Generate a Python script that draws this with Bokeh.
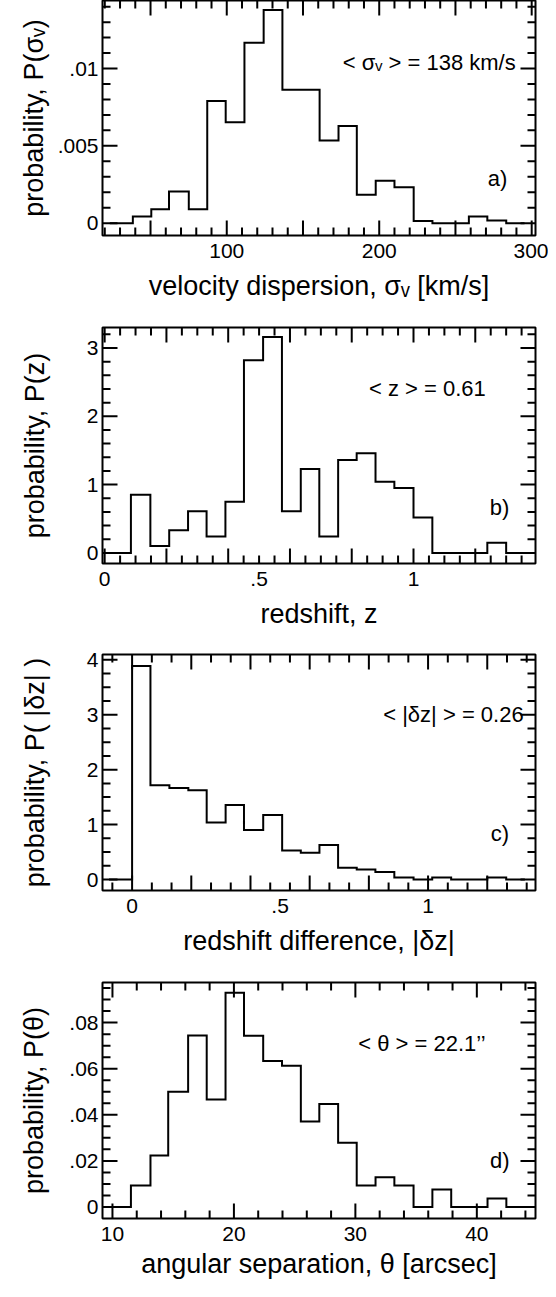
from bokeh.plotting import figure
from bokeh.models import Range1d, LinearAxis, FixedTicker, Label, BoxAnnotation
from bokeh.layouts import column
from bokeh.embed import file_html
from bokeh.resources import INLINE

FONT = "Liberation Sans"

# ---------------- panel a: velocity dispersion ----------------
a_edges = [23.3, 38.4, 50.5, 62.1, 75.1, 87.2, 99.3, 111.6, 124.2, 136.5, 148.8, 160.9,
           173.3, 185.3, 197.7, 210.0, 222.6, 234.9, 247.2, 258.8, 270.9, 283.3, 295.3]
a_vals = [0, 0.00043, 0.0009, 0.00204, 0.0009, 0.0079, 0.00653, 0.01166, 0.01379, 0.00862,
          0.00862, 0.00534, 0.00628, 0.00183, 0.00274, 0.00232, 0.00013, 0, 0, 0.00043,
          0.00017, 0]
a_xmajor = [50, 100, 150, 200, 250, 300]
a_xminor = [20, 30, 40, 60, 70, 80, 90, 110, 120, 130, 140, 160, 170, 180, 190, 210, 220,
            230, 240, 260, 270, 280, 290]
a_xlabels = {100: "100", 200: "200", 300: "300"}
a_ymajor = [0, 0.005, 0.01]
a_yminor = [0.001, 0.002, 0.003, 0.004, 0.006, 0.007, 0.008, 0.009, 0.011, 0.012, 0.013, 0.014]
a_ylabels = {0: "0", 0.005: ".005", 0.01: ".01"}

# ---------------- panel b: redshift ----------------
b_edges = [0.014, 0.085, 0.148, 0.209, 0.270, 0.330, 0.391, 0.451, 0.513, 0.574, 0.635, 0.695,
           0.756, 0.816, 0.877, 0.938, 1.0, 1.061, 1.122, 1.18, 1.239, 1.3, 1.36]
b_vals = [0, 0.85, 0.10, 0.33, 0.61, 0.24, 0.75, 2.82, 3.16, 0.61, 1.23, 0.24, 1.36, 1.46,
          1.04, 0.95, 0.52, 0, 0, 0, 0.15, 0]
b_xmajor = [0, 0.2, 0.4, 0.6, 0.8, 1.0, 1.2]
b_xminor = [0.05, 0.1, 0.15, 0.25, 0.3, 0.35, 0.45, 0.5, 0.55, 0.65, 0.7, 0.75, 0.85, 0.9,
            0.95, 1.05, 1.1, 1.15, 1.25, 1.3, 1.35]
b_xlabels = {0: "0", 0.5: ".5", 1: "1"}
b_ymajor = [0, 1, 2, 3]
b_yminor = [0.2, 0.4, 0.6, 0.8, 1.2, 1.4, 1.6, 1.8, 2.2, 2.4, 2.6, 2.8, 3.2]
b_ylabels = {0: "0", 1: "1", 2: "2", 3: "3"}

# ---------------- panel c: redshift difference ----------------
c_edges = [-0.078, 0.0, 0.062, 0.126, 0.190, 0.252, 0.316, 0.378, 0.443, 0.507, 0.570, 0.633,
           0.696, 0.759, 0.822, 0.886, 0.951, 1.014, 1.078, 1.138, 1.200, 1.264, 1.327]
c_vals = [0, 3.886, 1.715, 1.667, 1.625, 1.037, 1.355, 0.90, 1.175, 0.528, 0.486, 0.63,
          0.216, 0.18, 0.138, 0.036, 0, 0.036, 0, 0, 0.036, 0]
c_xmajor = [0, 0.2, 0.4, 0.6, 0.8, 1.0, 1.2]
c_xminor = [-0.0667, 0.0667, 0.1333, 0.2667, 0.3333, 0.4667, 0.5333, 0.6667, 0.7333,
            0.8667, 0.9333, 1.0667, 1.1333, 1.2667, 1.3333]
c_xlabels = {0: "0", 0.5: ".5", 1: "1"}
c_ymajor = [0, 1, 2, 3, 4]
c_yminor = [0.25, 0.5, 0.75, 1.25, 1.5, 1.75, 2.25, 2.5, 2.75, 3.25, 3.5, 3.75]
c_ylabels = {0: "0", 1: "1", 2: "2", 3: "3", 4: "4"}

# ---------------- panel d: angular separation ----------------
d_edges = [9.71, 11.52, 13.13, 14.59, 16.23, 17.76, 19.31, 20.83, 22.41, 23.96, 25.51, 27.03,
           28.58, 30.11, 31.66, 33.21, 34.79, 36.34, 37.89, 39.35, 40.88, 42.43, 43.95]
d_vals = [0, 0.0093, 0.0223, 0.050, 0.0744, 0.0466, 0.093, 0.0743, 0.0633, 0.0613, 0.0371,
          0.0447, 0.0279, 0.0093, 0.0129, 0.0093, 0, 0.0076, 0, 0, 0.0037, 0]
d_xmajor = [10, 20, 30, 40]
d_xminor = [12, 14, 16, 18, 22, 24, 26, 28, 32, 34, 36, 38, 42, 44]
d_xlabels = {10: "10", 20: "20", 30: "30", 40: "40"}
d_ymajor = [0, 0.02, 0.04, 0.06, 0.08]
d_yminor = [0.005, 0.01, 0.015, 0.025, 0.03, 0.035, 0.045, 0.05, 0.055, 0.065, 0.07, 0.075,
            0.085, 0.09, 0.095]
d_ylabels = {0: "0", 0.02: ".02", 0.04: ".04", 0.06: ".06", 0.08: ".08"}

TICK_FS = "21px"
AXLAB_FS = "27px"
NOTE_FS = "22px"
MAJ_LEN = 15
MIN_LEN = 8
TICK_W = 2.0
FIG_W = 548
B_LEFT = 102
B_RIGHT = 13
FRAME_W = FIG_W - B_LEFT - B_RIGHT


def tick_box(p, l, r, b, t):
    p.add_layout(BoxAnnotation(left=l, right=r, bottom=b, top=t,
                               fill_color="black", fill_alpha=1.0,
                               line_color=None, level="overlay"))


def add_ticks(p, xr, yr, xmaj, xmin, ymaj, ymin, frame_h):
    """Inward tick marks on all four frame sides, as small filled boxes."""
    ux = (xr[1] - xr[0]) / FRAME_W
    uy = (yr[1] - yr[0]) / frame_h
    hx = TICK_W / 2 * ux
    hy = TICK_W / 2 * uy
    xt = [(x, MAJ_LEN) for x in xmaj] + [(x, MIN_LEN) for x in xmin]
    yt = [(y, MAJ_LEN) for y in ymaj] + [(y, MIN_LEN) for y in ymin]
    for x, ln in xt:
        tick_box(p, x - hx, x + hx, yr[0], yr[0] + ln * uy)
        tick_box(p, x - hx, x + hx, yr[1] - ln * uy, yr[1])
    for y, ln in yt:
        tick_box(p, xr[0], xr[0] + ln * ux, y - hy, y + hy)
        tick_box(p, xr[1] - ln * ux, xr[1], y - hy, y + hy)


def make_panel(edges, vals, xr, yr, xmaj, xmin, xlabels, ymaj, ymin, ylabels,
               xlabel, ylabel, note, note_xy, tag, tag_xy,
               height, top, bottom, xstand1, xstand2, ystand):
    frame_h = height - top - bottom
    p = figure(width=FIG_W, height=height, x_range=Range1d(*xr), y_range=Range1d(*yr),
               output_backend="svg", toolbar_location=None,
               x_axis_location=None, y_axis_location=None,
               min_border_left=B_LEFT, min_border_right=B_RIGHT,
               min_border_top=top, min_border_bottom=bottom)
    p.grid.visible = False
    p.outline_line_color = "black"
    p.outline_line_width = 2
    p.background_fill_color = "white"
    p.border_fill_color = "white"

    xax = LinearAxis(
        ticker=FixedTicker(ticks=list(xlabels.keys()), minor_ticks=[]),
        major_label_overrides=xlabels,
        major_tick_in=0, major_tick_out=0, minor_tick_in=0, minor_tick_out=0,
        axis_line_color=None, major_label_standoff=xstand1,
        major_label_text_font=FONT, major_label_text_font_size=TICK_FS,
        major_label_text_color="black",
        axis_label=xlabel, axis_label_text_font=FONT, axis_label_text_font_size=AXLAB_FS,
        axis_label_text_font_style="normal", axis_label_standoff=xstand2,
        axis_label_text_color="black",
    )
    p.add_layout(xax, "below")

    yax = LinearAxis(
        ticker=FixedTicker(ticks=list(ylabels.keys()), minor_ticks=[]),
        major_label_overrides=ylabels,
        major_tick_in=0, major_tick_out=0, minor_tick_in=0, minor_tick_out=0,
        axis_line_color=None, major_label_standoff=4,
        major_label_text_font=FONT, major_label_text_font_size=TICK_FS,
        major_label_text_color="black",
        axis_label=ylabel, axis_label_text_font=FONT, axis_label_text_font_size=AXLAB_FS,
        axis_label_text_font_style="normal", axis_label_standoff=ystand,
        axis_label_text_color="black",
    )
    p.add_layout(yax, "left")

    p.step(x=edges, y=vals + [vals[-1]], mode="after", line_color="black",
           line_width=2, line_join="miter")

    add_ticks(p, xr, yr, xmaj, xmin, ymaj, ymin, frame_h)

    p.add_layout(Label(x=note_xy[0], y=note_xy[1], text=note, text_align="right",
                       text_baseline="middle", text_font=FONT, text_font_size=NOTE_FS,
                       text_color="black"))
    p.add_layout(Label(x=tag_xy[0], y=tag_xy[1], text=tag, text_align="right",
                       text_baseline="middle", text_font=FONT, text_font_size=NOTE_FS,
                       text_color="black"))
    return p


pa = make_panel(a_edges, a_vals, (18.5, 302.5), (-0.0008, 0.0144),
                a_xmajor, a_xminor, a_xlabels, a_ymajor, a_yminor, a_ylabels,
                "velocity dispersion, \u03c3\u1d65 [km/s]", "probability, P(\u03c3\u1d65)",
                "< \u03c3\u1d65 > = 138 km/s", (289.5, 0.0104), "a)", (284, 0.00287),
                315, 0, 80, 8, 10, 6)
pb = make_panel(b_edges, b_vals, (-0.007, 1.395), (-0.155, 3.30),
                b_xmajor, b_xminor, b_xlabels, b_ymajor, b_yminor, b_ylabels,
                "redshift, z", "probability, P(z)",
                "< z > = 0.61", (1.234, 2.41), "b)", (1.31, 0.67),
                327, 12, 79, 8, 10, 34)
pc = make_panel(c_edges, c_vals, (-0.1, 1.363), (-0.2, 4.096),
                c_xmajor, c_xminor, c_xlabels, c_ymajor, c_yminor, c_ylabels,
                "redshift difference, |\u03b4z|", "probability, P( |\u03b4z| )",
                "< |\u03b4z| > = 0.26", (1.323, 3.0), "c)", (1.274, 0.84),
                328, 12, 80, 8, 10, 34)
pd_ = make_panel(d_edges, d_vals, (9.18, 44.83), (-0.005, 0.0974),
                 d_xmajor, d_xminor, d_xlabels, d_ymajor, d_yminor, d_ylabels,
                 "angular separation, \u03b8 [arcsec]", "probability, P(\u03b8)",
                 "< \u03b8 > = 22.1\u2019\u2019", (40.73, 0.0711), "d)", (42.7, 0.02),
                 311, 12, 63, 8, 5, 17)

layout = column(pa, pb, pc, pd_, spacing=0)
open("out.html", "w").write(file_html(layout, INLINE))
